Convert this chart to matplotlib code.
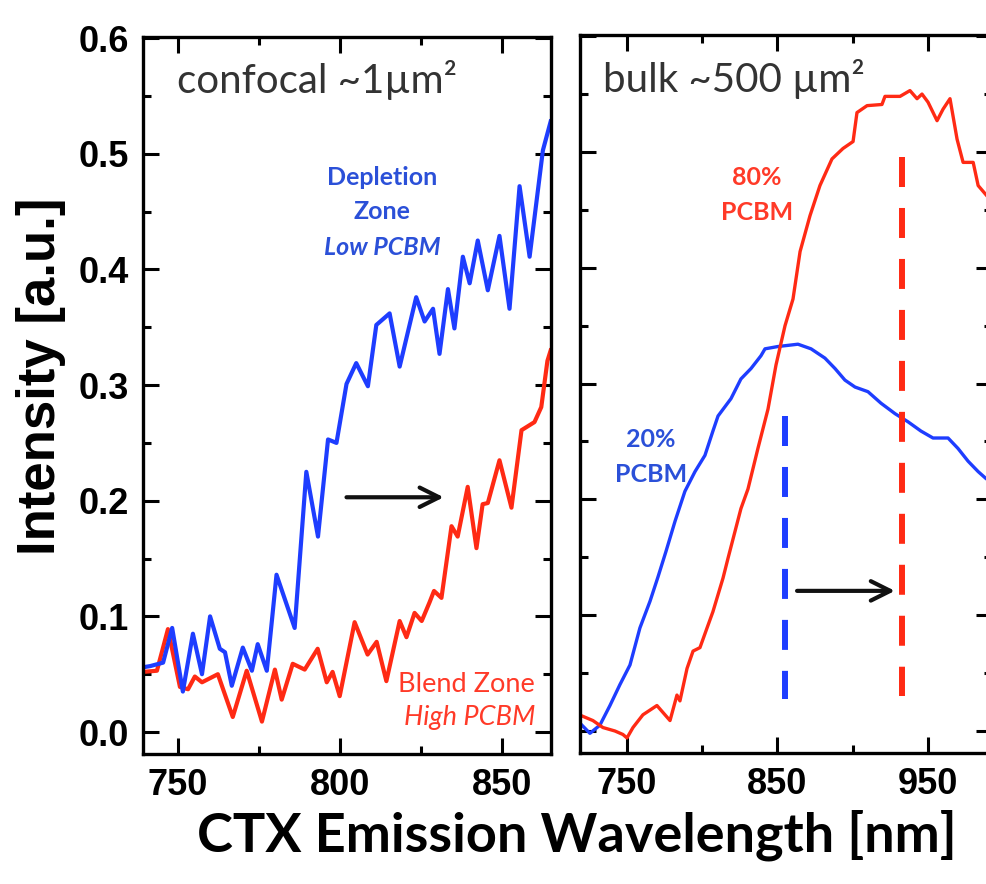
import matplotlib
matplotlib.use('Agg')
import matplotlib.pyplot as plt
from matplotlib.ticker import FixedLocator, MultipleLocator

# confocal spectra (left panel), wavelength in nm / intensity in a.u.
conf_blue_nm = [739.2, 741.4, 745.4, 748.2, 751.5, 754.6, 757.4, 759.9, 762.9, 764.5,
                766.6, 770.0, 772.8, 774.6, 777.4, 779.0, 780.4, 786.0, 789.6, 793.2,
                796.3, 798.9, 802.0, 805.0, 808.6, 811.2, 815.3, 818.4, 823.5, 826.1,
                828.7, 830.7, 833.3, 835.3, 837.9, 840.0, 842.5, 845.6, 849.2, 852.3,
                855.4, 858.5, 862.6, 865.0]
conf_blue = [0.056, 0.057, 0.060, 0.090, 0.035, 0.085, 0.050, 0.100, 0.072, 0.069,
             0.040, 0.073, 0.053, 0.076, 0.053, 0.097, 0.136, 0.090, 0.225, 0.169,
             0.253, 0.250, 0.301, 0.319, 0.299, 0.352, 0.362, 0.316, 0.376, 0.355,
             0.366, 0.327, 0.383, 0.349, 0.411, 0.388, 0.425, 0.382, 0.429, 0.366,
             0.472, 0.411, 0.503, 0.528]

conf_red_nm = [739.2, 743.5, 746.9, 750.6, 753.1, 755.2, 757.4, 762.3, 766.9, 771.2,
               775.9, 779.9, 782.0, 785.4, 789.1, 793.1, 795.9, 797.7, 799.9, 804.5,
               808.5, 811.3, 814.3, 818.4, 820.5, 823.0, 825.2, 827.6, 829.0, 831.3,
               834.4, 836.3, 839.4, 842.1, 844.0, 845.6, 849.2, 852.9, 856.0, 860.0,
               862.1, 864.0, 865.0]
conf_red = [0.052, 0.053, 0.089, 0.039, 0.037, 0.048, 0.043, 0.050, 0.013, 0.053,
            0.009, 0.054, 0.028, 0.059, 0.054, 0.072, 0.043, 0.052, 0.031, 0.095,
            0.067, 0.078, 0.044, 0.096, 0.082, 0.103, 0.096, 0.112, 0.122, 0.116,
            0.178, 0.169, 0.212, 0.159, 0.197, 0.198, 0.235, 0.194, 0.261, 0.268,
            0.281, 0.321, 0.330]

# bulk spectra (right panel)
bulk_blue_nm = [720.1, 725.4, 732.0, 738.7, 745.3, 752.0, 758.6, 765.3, 770.6, 775.9,
                781.9, 788.5, 795.2, 801.8, 807.1, 810.5, 819.1, 825.7, 832.4, 839.0,
                841.7, 850.3, 857.0, 863.6, 872.3, 881.5, 888.2, 894.8, 901.5, 910.1,
                918.8, 928.1, 936.7, 945.3, 953.3, 963.3, 969.9, 976.6, 983.3, 988.5,
                993.0]
bulk_blue = [0.005, -0.002, 0.005, 0.022, 0.040, 0.057, 0.089, 0.112, 0.133, 0.155,
             0.181, 0.207, 0.224, 0.238, 0.259, 0.272, 0.287, 0.304, 0.313, 0.324,
             0.330, 0.332, 0.333, 0.334, 0.330, 0.322, 0.313, 0.303, 0.297, 0.293,
             0.283, 0.274, 0.267, 0.259, 0.253, 0.253, 0.244, 0.233, 0.224, 0.218,
             0.214]

bulk_red_nm = [720.1, 727.4, 734.0, 742.0, 747.3, 750.0, 754.0, 760.6, 769.9, 778.6,
               783.2, 785.2, 789.9, 793.9, 798.5, 803.2, 807.1, 813.8, 817.1, 825.7,
               830.4, 837.0, 843.7, 849.0, 855.0, 860.3, 865.0, 871.6, 878.2, 886.2,
               893.5, 900.2, 902.8, 909.5, 919.4, 921.4, 931.4, 938.0, 942.7, 946.0,
               950.0, 956.0, 960.0, 964.6, 969.3, 973.3, 980.0, 983.3, 989.2, 993.0]
bulk_red = [0.013, 0.009, 0.003, 0.000, -0.003, -0.006, 0.003, 0.014, 0.022, 0.009,
            0.031, 0.026, 0.054, 0.069, 0.072, 0.089, 0.103, 0.132, 0.149, 0.192,
            0.209, 0.244, 0.278, 0.316, 0.350, 0.373, 0.414, 0.445, 0.471, 0.494,
            0.503, 0.509, 0.534, 0.540, 0.541, 0.548, 0.548, 0.553, 0.546, 0.550,
            0.543, 0.527, 0.537, 0.546, 0.511, 0.491, 0.491, 0.471, 0.462, 0.458]

# tick positions
conf_major = [750, 800, 850]
conf_minor = [775, 825]
bulk_major = [750, 850, 950]
bulk_minor = [800, 900]

# peak markers and shift arrows
conf_arrow_nm = (802.0, 832.0)
conf_arrow_y = 0.203
peak_20_nm = 855.0
peak_20_span = (0.272, 0.028)
peak_80_nm = 933.0
peak_80_span = (0.496, 0.030)
bulk_arrow_nm = (863.0, 928.0)
bulk_arrow_y = 0.121

BLUE = '#1e3dff'
RED = '#ff2a14'
BLUE_TXT = '#2b50d8'
RED_TXT = '#ff3a28'
ANNO = ['Lato', 'DejaVu Sans']

plt.rcParams['font.family'] = ['Liberation Sans', 'DejaVu Sans']
plt.rcParams['font.weight'] = 'bold'
plt.rcParams['lines.scale_dashes'] = False

W, H = 987, 884
fig = plt.figure(figsize=(W / 100, H / 100), dpi=100)
ax1 = fig.add_axes([143 / W, 1 - 754 / H, (551 - 143) / W, (754 - 37) / H])
ax2 = fig.add_axes([580 / W, 1 - 753 / H, (992 - 580) / W, (753 - 35) / H])

for ax in (ax1, ax2):
    ax.set_ylim(-0.019, 0.601)
    ax.yaxis.set_major_locator(MultipleLocator(0.1))
    ax.yaxis.set_minor_locator(MultipleLocator(0.05))
    ax.tick_params(which='both', direction='in', top=True, right=True, width=2.2,
                   labelsize=26, pad=10)
    ax.tick_params(which='major', length=11.5)
    ax.tick_params(which='minor', length=6)
    for sp in ax.spines.values():
        sp.set_linewidth(2.4)

ax1.set_xlim(739.2, 865.1)
ax1.xaxis.set_major_locator(FixedLocator(conf_major))
ax1.xaxis.set_minor_locator(FixedLocator(conf_minor))
ax1.yaxis.set_major_formatter(lambda v, p: f'{v:.1f}')

ax2.set_xlim(718.8, 992.5)
ax2.xaxis.set_major_locator(FixedLocator(bulk_major))
ax2.xaxis.set_minor_locator(FixedLocator(bulk_minor))
ax2.tick_params(labelleft=False)

# left panel
ax1.plot(conf_red_nm, conf_red, color=RED, lw=3, solid_joinstyle='round')
ax1.plot(conf_blue_nm, conf_blue, color=BLUE, lw=3, solid_joinstyle='round')
ax1.annotate('', xy=(conf_arrow_nm[1], conf_arrow_y), xytext=(conf_arrow_nm[0], conf_arrow_y),
             arrowprops=dict(arrowstyle='->,head_length=1.4,head_width=0.7', lw=3,
                             color='#111111', shrinkA=0, shrinkB=0, mutation_scale=10))

ax1.text(0.083, 0.922, 'confocal ~1\u00b5m\u00b2', transform=ax1.transAxes, family=ANNO,
         weight='normal', fontsize=29, color='#333333', va='baseline')
ax1.text(0.586, 0.794, 'Depletion', transform=ax1.transAxes, family=ANNO, fontsize=18,
         color=BLUE_TXT, ha='center', va='baseline')
ax1.text(0.586, 0.746, 'Zone', transform=ax1.transAxes, family=ANNO, fontsize=18,
         color=BLUE_TXT, ha='center', va='baseline')
ax1.text(0.586, 0.696, 'Low PCBM', transform=ax1.transAxes, family=ANNO, fontsize=18,
         style='italic', color=BLUE_TXT, ha='center', va='baseline')
ax1.text(0.961, 0.0865, 'Blend Zone', transform=ax1.transAxes, family=ANNO, fontsize=19.5,
         weight='normal', color=RED_TXT, ha='right', va='baseline')
ax1.text(0.961, 0.0404, 'High PCBM', transform=ax1.transAxes, family=ANNO, fontsize=19.5,
         weight='normal', style='italic', color=RED_TXT, ha='right', va='baseline')

# right panel
ax2.plot(bulk_blue_nm, bulk_blue, color=BLUE, lw=2.4, solid_joinstyle='round')
ax2.plot(bulk_red_nm, bulk_red, color=RED, lw=2.4, solid_joinstyle='round')
ax2.plot([peak_20_nm, peak_20_nm], peak_20_span, color=BLUE, lw=4.3, dashes=(21.6, 15.1))
ax2.plot([peak_80_nm, peak_80_nm], peak_80_span, color=RED, lw=4.3, dashes=(21.6, 15.1))
ax2.annotate('', xy=(bulk_arrow_nm[1], bulk_arrow_y), xytext=(bulk_arrow_nm[0], bulk_arrow_y),
             arrowprops=dict(arrowstyle='->,head_length=1.4,head_width=0.7', lw=3,
                             color='#111111', shrinkA=0, shrinkB=0, mutation_scale=10))

ax2.text(0.0558, 0.9206, 'bulk ~500 \u00b5m\u00b2', transform=ax2.transAxes, family=ANNO,
         weight='normal', fontsize=29, color='#333333', va='baseline')
ax2.text(0.4296, 0.791, '80%', transform=ax2.transAxes, family=ANNO, fontsize=18,
         color=RED_TXT, ha='center', va='baseline')
ax2.text(0.4296, 0.742, 'PCBM', transform=ax2.transAxes, family=ANNO, fontsize=18,
         color=RED_TXT, ha='center', va='baseline')
ax2.text(0.1723, 0.4262, '20%', transform=ax2.transAxes, family=ANNO, fontsize=18,
         color=BLUE_TXT, ha='center', va='baseline')
ax2.text(0.1723, 0.3774, 'PCBM', transform=ax2.transAxes, family=ANNO, fontsize=18,
         color=BLUE_TXT, ha='center', va='baseline')

fig.text(41 / W, 1 - 376 / H, 'Intensity [a.u.]', rotation=90, fontsize=38,
         ha='center', va='center')
fig.text(577 / W, 1 - 835 / H, 'CTX Emission Wavelength [nm]', family=ANNO, fontsize=39,
         ha='center', va='center')

fig.savefig('out.png', dpi=100)
